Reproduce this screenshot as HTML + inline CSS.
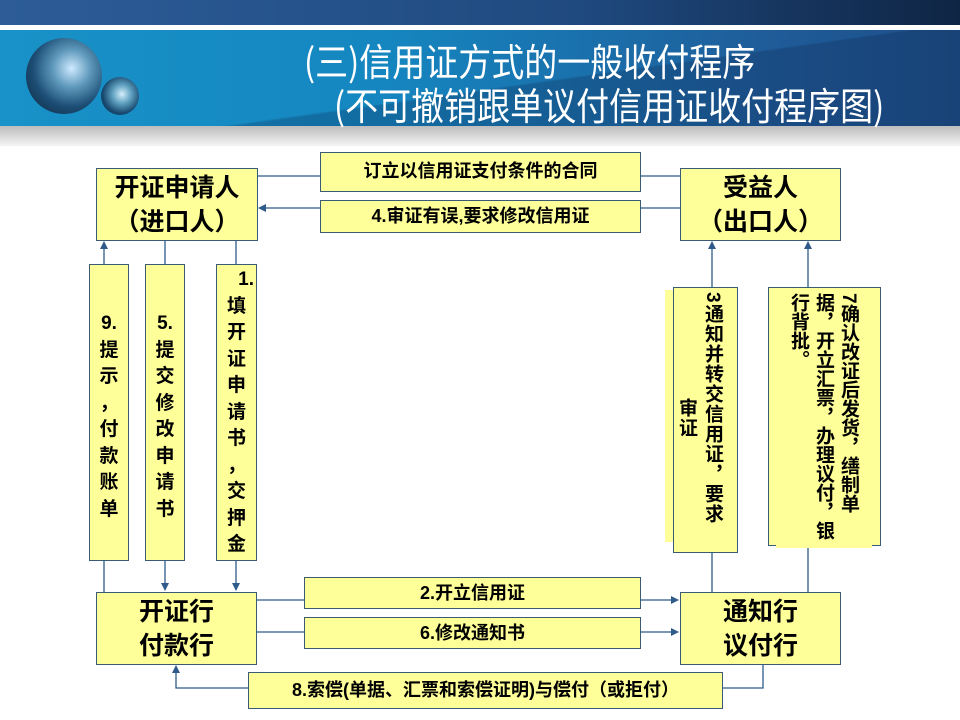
<!DOCTYPE html>
<html><head><meta charset="utf-8"><style>
body{margin:0;width:960px;height:720px;position:relative;overflow:hidden;background:#fff;font-family:"Liberation Sans","Noto Sans CJK SC",sans-serif;}
.a{position:absolute;}
.b{position:absolute;background:#ffff99;border:1.5px solid #3a5a78;box-sizing:border-box;font-weight:bold;color:#000;text-align:center;}
.n{font-size:25px;line-height:34px;padding-top:2px;}
.h{font-size:18px;line-height:30px;}
.v{font-size:19px;line-height:26.5px;}
.vr{writing-mode:vertical-rl;font-size:19px;font-weight:bold;line-height:26px;position:absolute;letter-spacing:1px;}
.t{position:absolute;color:#fff;font-size:33px;line-height:40px;font-family:'Noto Sans CJK SC',sans-serif;transform:scaleY(1.15);transform-origin:0 50%;white-space:nowrap;}
</style></head><body>
<div class="a" style="left:0;top:0;width:960px;height:25px;background:linear-gradient(90deg,#2d5c97,#1f4a80 60%,#0f2544);"></div>
<div class="a" style="left:0;top:30px;width:960px;height:96px;background:linear-gradient(90deg,#1892c8,#1586c0 40%,#1f5c99 80%,#1d4f88);"></div>
<div class="a" style="left:0;top:30px;width:960px;height:96px;background:linear-gradient(172deg,rgba(0,0,0,0) 0 55%,rgba(10,30,70,0.25) 56% 100%);"></div>
<div class="a" style="left:0;top:126px;width:960px;height:20px;background:linear-gradient(#bdbdbd,#f4f4f4);"></div>
<div class="a" style="left:26px;top:38px;width:76px;height:76px;border-radius:50%;background:radial-gradient(circle at 60% 40%,#cfeaff,#5c97ba 30%,#1c4d74 60%,#0b2338);"></div>
<div class="a" style="left:101px;top:77px;width:38px;height:38px;border-radius:50%;background:radial-gradient(circle at 55% 45%,#d6eefa,#5fa0c0 32%,#17486e 65%,#0a2236);"></div>
<div class="t" style="left:304px;top:40px;">(三)信用证方式的一般收付程序</div>
<div class="t" style="left:334px;top:84px;">(不可撤销跟单议付信用证收付程序图)</div>

<svg class="a" style="left:0;top:0" width="960" height="720">
<defs><marker id="m" markerWidth="8" markerHeight="8" refX="7" refY="4" orient="auto" markerUnits="userSpaceOnUse"><path d="M0,0L8,4L0,8z" fill="#2e5b8a"/></marker></defs>
<g stroke="#2e5b8a" stroke-width="1.3" fill="none">
<line x1="257" y1="176" x2="680" y2="176"/>
<line x1="680" y1="208" x2="259" y2="208" marker-end="url(#m)"/>
<line x1="104" y1="264" x2="104" y2="242" marker-end="url(#m)"/>
<line x1="165" y1="240" x2="165" y2="264"/>
<line x1="236" y1="240" x2="236" y2="264"/>
<line x1="104" y1="560" x2="104" y2="592"/>
<line x1="165" y1="560" x2="165" y2="590" marker-end="url(#m)"/>
<line x1="236" y1="560" x2="236" y2="590" marker-end="url(#m)"/>
<line x1="712" y1="287" x2="712" y2="242" marker-end="url(#m)"/>
<line x1="808" y1="287" x2="808" y2="242" marker-end="url(#m)"/>
<line x1="712" y1="552" x2="712" y2="592"/>
<line x1="808" y1="545" x2="808" y2="592"/>
<line x1="256" y1="600" x2="678" y2="600" marker-end="url(#m)"/>
<line x1="256" y1="632" x2="678" y2="632" marker-end="url(#m)"/>
<polyline points="763,664 763,688 176,688 176,666" marker-end="url(#m)"/>
</g></svg>

<div class="b n" style="left:96px;top:168px;width:162px;height:73px;">开证申请人<br>（进口人）</div>
<div class="b n" style="left:680px;top:168px;width:161px;height:73px;">受益人<br>（出口人）</div>
<div class="b h" style="left:320px;top:152px;width:321px;height:40px;line-height:37px;">订立以信用证支付条件的合同</div>
<div class="b h" style="left:320px;top:200px;width:321px;height:33px;">4.审证有误,要求修改信用证</div>

<div class="b v" style="left:89px;top:264px;width:40px;height:297px;padding-top:46px;">9.<br>提<br>示<br>，<br>付<br>款<br>账<br>单</div>
<div class="b v" style="left:145px;top:264px;width:40px;height:297px;padding-top:46px;">5.<br>提<br>交<br>修<br>改<br>申<br>请<br>书</div>
<div class="b v" style="left:216px;top:264px;width:41px;height:297px;padding-top:2px;line-height:26.5px;"><div style="text-align:right;padding-right:2px;">1.</div>填<br>开<br>证<br>申<br>请<br>书<br>，<br>交<br>押<br>金</div>

<div class="a" style="left:665px;top:290px;width:64px;height:252px;background:#ffff99;"></div>
<div class="b" style="left:673px;top:287px;width:65px;height:266px;"></div>
<div class="vr" style="left:699px;top:292px;height:258px;">3通知并转交信用证，要求</div>
<div class="vr" style="left:673px;top:398px;height:60px;">审证</div>
<div class="b" style="left:768px;top:287px;width:113px;height:259px;"></div>
<div class="a" style="left:776px;top:540px;width:96px;height:8px;background:#ffff99;"></div>
<div class="vr" style="left:786px;top:293px;height:252px;line-height:25px;letter-spacing:0;">7确认改证后发货，缮制单据，开立汇票，办理议付，银行背批。</div>

<div class="b n" style="left:96px;top:592px;width:161px;height:73px;">开证行<br>付款行</div>
<div class="b n" style="left:680px;top:592px;width:161px;height:73px;">通知行<br>议付行</div>
<div class="b h" style="left:304px;top:577px;width:337px;height:32px;">2.开立信用证</div>
<div class="b h" style="left:304px;top:617px;width:337px;height:32px;">6.修改通知书</div>
<div class="b h" style="left:248px;top:672px;width:475px;height:37px;line-height:34px;">8.索偿(单据、汇票和索偿证明)与偿付（或拒付）</div>
</body></html>
